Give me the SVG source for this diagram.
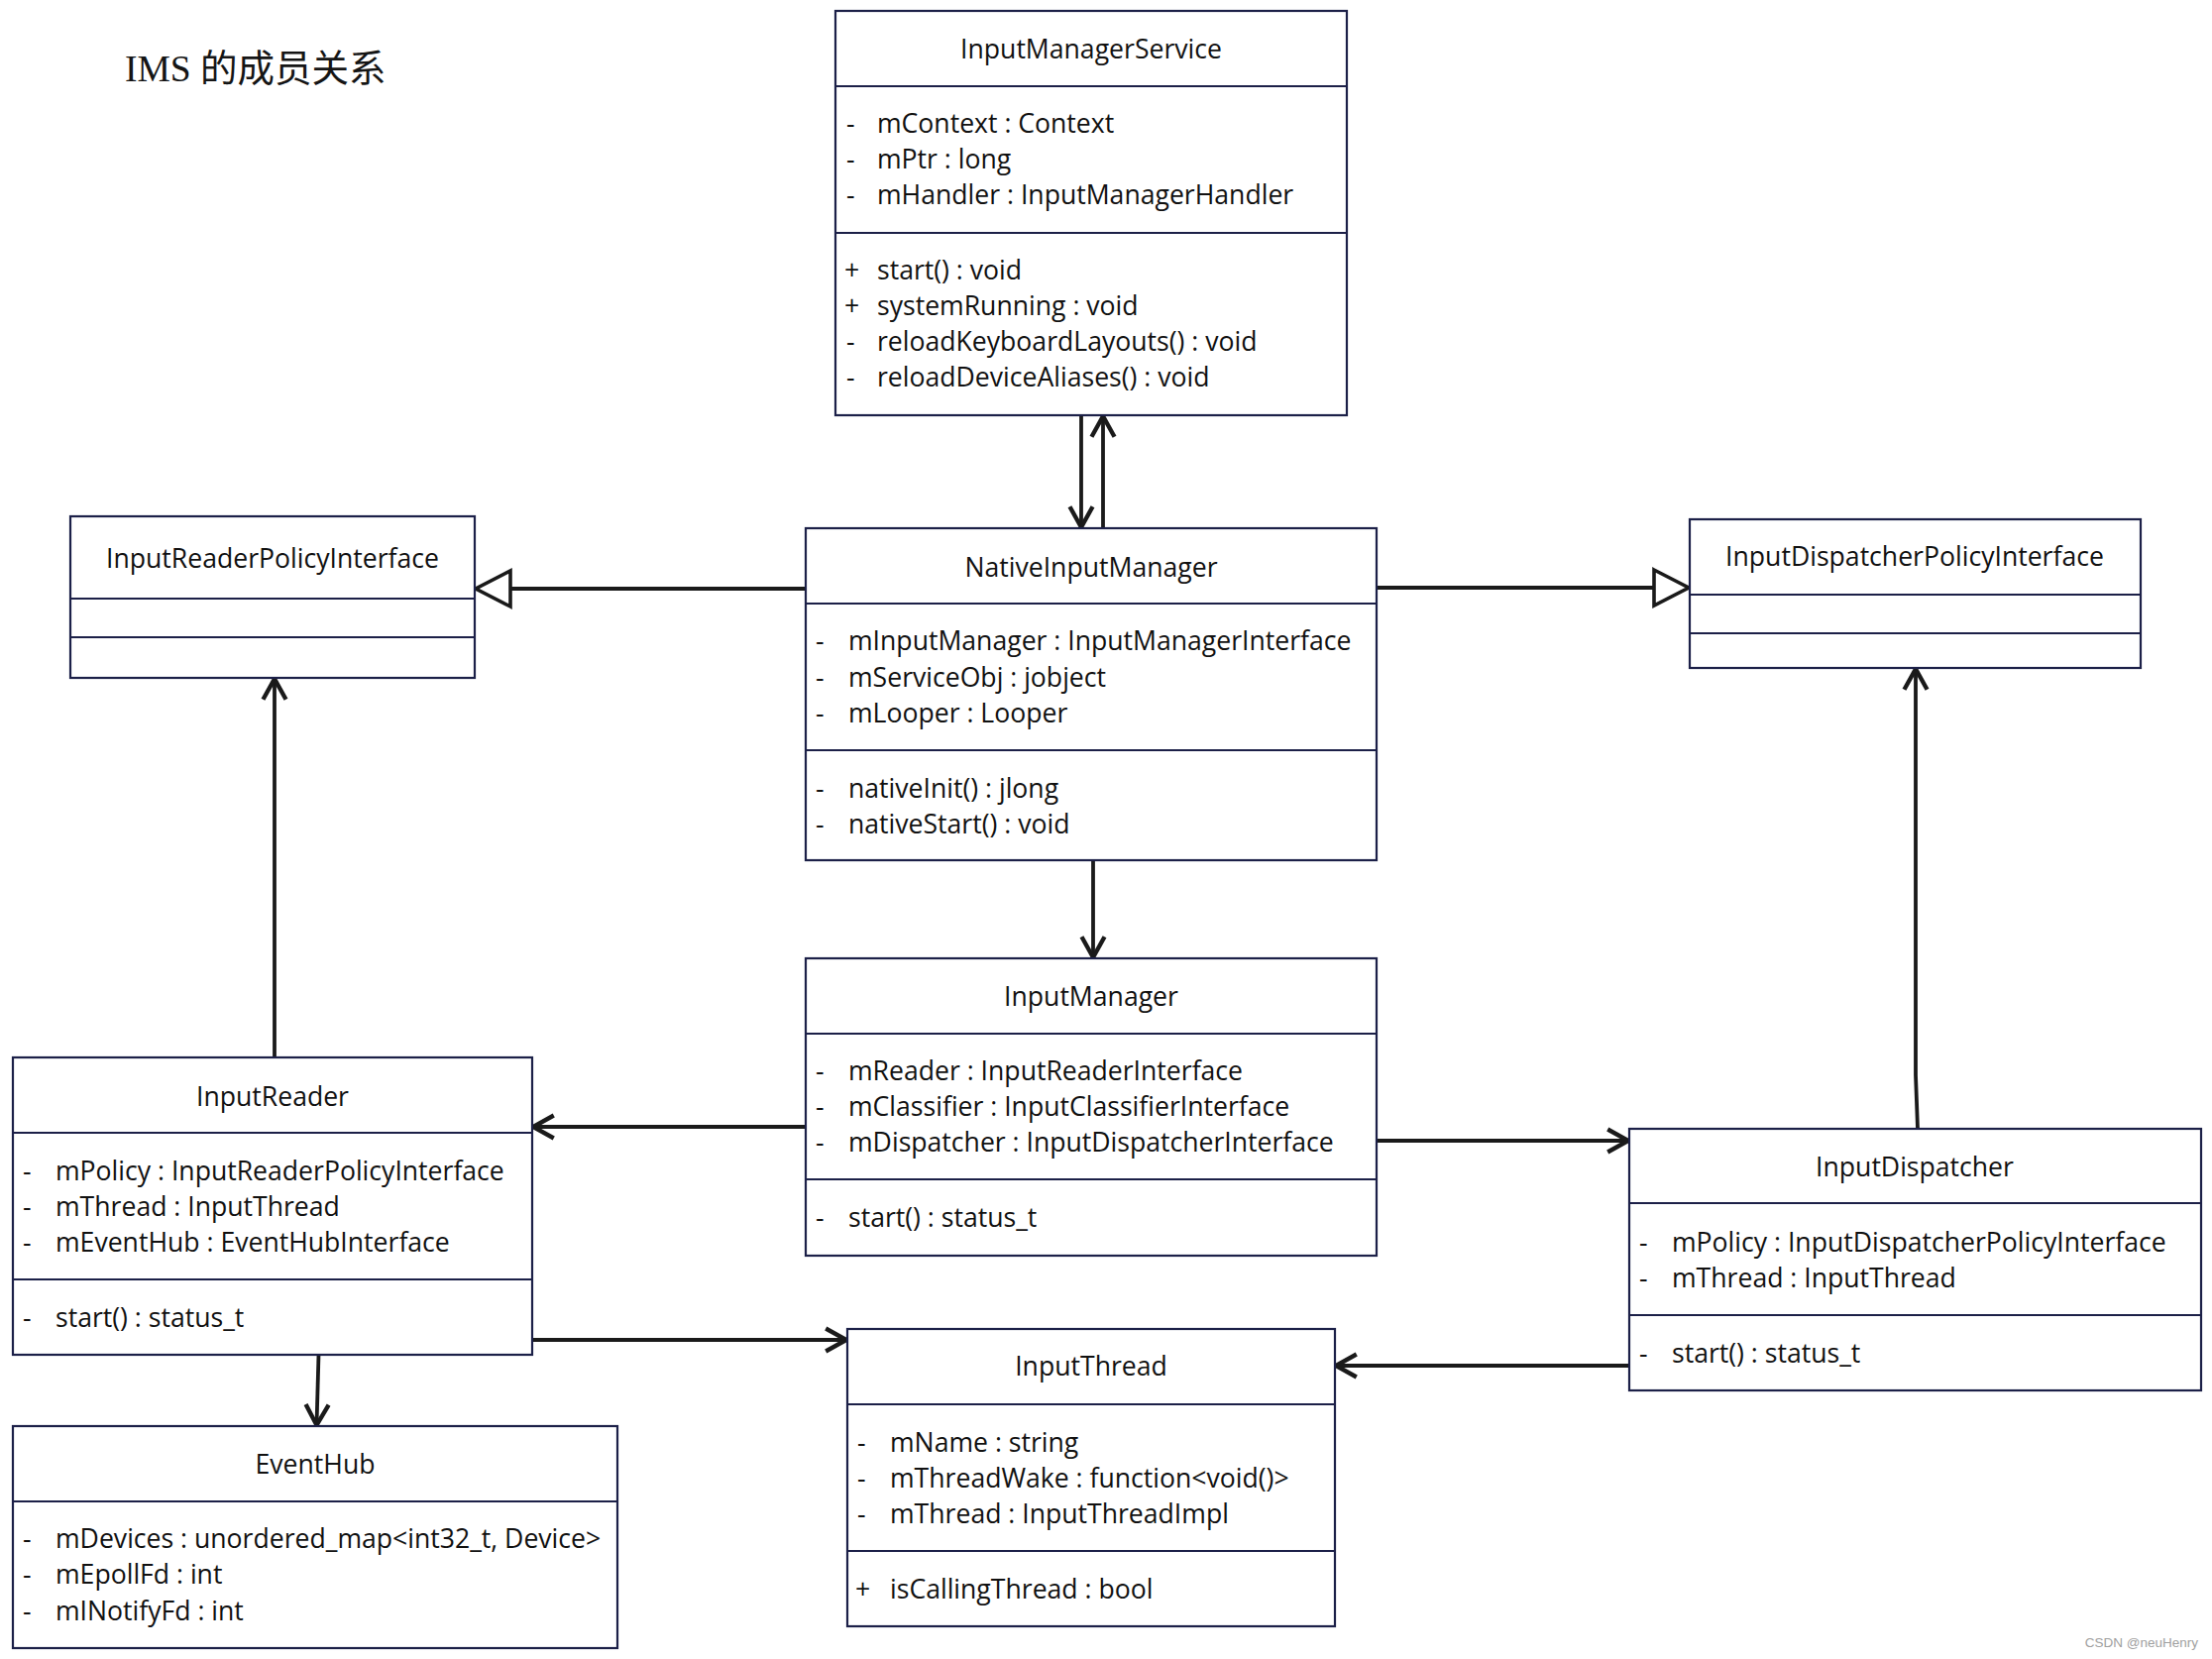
<svg xmlns="http://www.w3.org/2000/svg" width="2232" height="1674" viewBox="0 0 2232 1674">
<defs>
<style>
.box{fill:#ffffff;stroke:#1c2048;stroke-width:2.2}
.sep{stroke:#1c2048;stroke-width:2.2}
.t{font-family:"Open Sans","Noto Sans","DejaVu Sans",sans-serif;font-size:26.6px;fill:#111111}
.c{text-anchor:middle}
.edge{fill:none;stroke:#1a1a1a;stroke-width:3.8}
.title{font-family:"Liberation Serif","Noto Sans CJK SC",serif;font-size:37.5px;fill:#151515}
.wm{font-family:"Liberation Sans","DejaVu Sans",sans-serif;font-size:13.5px;fill:#a0a0a0;text-anchor:end}
</style>
<marker id="open" markerUnits="userSpaceOnUse" markerWidth="30" markerHeight="30" viewBox="-22 -13 26 26" refX="0" refY="0" orient="auto">
<path d="M-18,-10 L0,0 L-18,10" fill="none" stroke="#1a1a1a" stroke-width="3.8"/>
</marker>
<marker id="tri" markerUnits="userSpaceOnUse" markerWidth="44" markerHeight="44" viewBox="-40 -22 44 44" refX="0" refY="0" orient="auto">
<path d="M-35,-18 L0,0 L-35,18 Z" fill="#ffffff" stroke="#1a1a1a" stroke-width="3.6"/>
</marker>
</defs>
<rect width="2232" height="1674" fill="#ffffff"/>
<text class="title" x="126" y="82">IMS 的成员关系</text>

<g id="connectors">
<line class="edge" x1="1091" y1="419" x2="1091" y2="532" marker-end="url(#open)"/>
<line class="edge" x1="1113" y1="533" x2="1113" y2="420" marker-end="url(#open)"/>
<line class="edge" x1="813" y1="594" x2="480" y2="594" marker-end="url(#tri)"/>
<line class="edge" x1="1389" y1="593" x2="1704" y2="593" marker-end="url(#tri)"/>
<line class="edge" x1="1103" y1="868" x2="1103" y2="966" marker-end="url(#open)"/>
<line class="edge" x1="813" y1="1137" x2="538" y2="1137" marker-end="url(#open)"/>
<line class="edge" x1="1389" y1="1151" x2="1643" y2="1151" marker-end="url(#open)"/>
<line class="edge" x1="277" y1="1067" x2="277" y2="685" marker-end="url(#open)"/>
<line class="edge" x1="537" y1="1352" x2="854" y2="1352" marker-end="url(#open)"/>
<line class="edge" x1="321.5" y1="1367" x2="319.5" y2="1438" marker-end="url(#open)"/>
<line class="edge" x1="1644" y1="1378" x2="1348" y2="1378" marker-end="url(#open)"/>
<polyline class="edge" points="1935,1139 1933,1085 1933,675" marker-end="url(#open)"/>
</g>

<g id="InputManagerService">
<rect class="box" x="843" y="11" width="516" height="408"/>
<line class="sep" x1="843" y1="87" x2="1359" y2="87"/>
<line class="sep" x1="843" y1="235" x2="1359" y2="235"/>
<text class="t c" x="1101" y="59">InputManagerService</text>
<text class="t" x="854" y="134">-</text><text class="t" x="885" y="134">mContext : Context</text>
<text class="t" x="854" y="170">-</text><text class="t" x="885" y="170">mPtr : long</text>
<text class="t" x="854" y="206">-</text><text class="t" x="885" y="206">mHandler : InputManagerHandler</text>
<text class="t" x="852" y="282">+</text><text class="t" x="885" y="282">start() : void</text>
<text class="t" x="852" y="318">+</text><text class="t" x="885" y="318">systemRunning : void</text>
<text class="t" x="854" y="354">-</text><text class="t" x="885" y="354">reloadKeyboardLayouts() : void</text>
<text class="t" x="854" y="390">-</text><text class="t" x="885" y="390">reloadDeviceAliases() : void</text>
</g>

<g id="NativeInputManager">
<rect class="box" x="813" y="533" width="576" height="335"/>
<line class="sep" x1="813" y1="609" x2="1389" y2="609"/>
<line class="sep" x1="813" y1="757" x2="1389" y2="757"/>
<text class="t c" x="1101" y="582">NativeInputManager</text>
<text class="t" x="823" y="656">-</text><text class="t" x="856" y="656">mInputManager : InputManagerInterface</text>
<text class="t" x="823" y="693">-</text><text class="t" x="856" y="693">mServiceObj : jobject</text>
<text class="t" x="823" y="729">-</text><text class="t" x="856" y="729">mLooper : Looper</text>
<text class="t" x="823" y="805">-</text><text class="t" x="856" y="805">nativeInit() : jlong</text>
<text class="t" x="823" y="841">-</text><text class="t" x="856" y="841">nativeStart() : void</text>
</g>

<g id="InputReaderPolicyInterface">
<rect class="box" x="71" y="521" width="408" height="163"/>
<line class="sep" x1="71" y1="604" x2="479" y2="604"/>
<line class="sep" x1="71" y1="643" x2="479" y2="643"/>
<text class="t c" x="275" y="573">InputReaderPolicyInterface</text>
</g>

<g id="InputDispatcherPolicyInterface">
<rect class="box" x="1705" y="524" width="455" height="150"/>
<line class="sep" x1="1705" y1="600" x2="2160" y2="600"/>
<line class="sep" x1="1705" y1="639" x2="2160" y2="639"/>
<text class="t c" x="1932" y="571">InputDispatcherPolicyInterface</text>
</g>

<g id="InputManager">
<rect class="box" x="813" y="967" width="576" height="300"/>
<line class="sep" x1="813" y1="1043" x2="1389" y2="1043"/>
<line class="sep" x1="813" y1="1190" x2="1389" y2="1190"/>
<text class="t c" x="1101" y="1015">InputManager</text>
<text class="t" x="823" y="1090">-</text><text class="t" x="856" y="1090">mReader : InputReaderInterface</text>
<text class="t" x="823" y="1126">-</text><text class="t" x="856" y="1126">mClassifier : InputClassifierInterface</text>
<text class="t" x="823" y="1162">-</text><text class="t" x="856" y="1162">mDispatcher : InputDispatcherInterface</text>
<text class="t" x="823" y="1238">-</text><text class="t" x="856" y="1238">start() : status_t</text>
</g>

<g id="InputReader">
<rect class="box" x="13" y="1067" width="524" height="300"/>
<line class="sep" x1="13" y1="1143" x2="537" y2="1143"/>
<line class="sep" x1="13" y1="1291" x2="537" y2="1291"/>
<text class="t c" x="275" y="1116">InputReader</text>
<text class="t" x="23" y="1191">-</text><text class="t" x="56" y="1191">mPolicy : InputReaderPolicyInterface</text>
<text class="t" x="23" y="1227">-</text><text class="t" x="56" y="1227">mThread : InputThread</text>
<text class="t" x="23" y="1263">-</text><text class="t" x="56" y="1263">mEventHub : EventHubInterface</text>
<text class="t" x="23" y="1339">-</text><text class="t" x="56" y="1339">start() : status_t</text>
</g>

<g id="EventHub">
<rect class="box" x="13" y="1439" width="610" height="224"/>
<line class="sep" x1="13" y1="1515" x2="623" y2="1515"/>
<text class="t c" x="318" y="1487">EventHub</text>
<text class="t" x="23" y="1562">-</text><text class="t" x="56" y="1562">mDevices : unordered_map&lt;int32_t, Device&gt;</text>
<text class="t" x="23" y="1598">-</text><text class="t" x="56" y="1598">mEpollFd : int</text>
<text class="t" x="23" y="1635">-</text><text class="t" x="56" y="1635">mINotifyFd : int</text>
</g>

<g id="InputThread">
<rect class="box" x="855" y="1341" width="492" height="300"/>
<line class="sep" x1="855" y1="1417" x2="1347" y2="1417"/>
<line class="sep" x1="855" y1="1565" x2="1347" y2="1565"/>
<text class="t c" x="1101" y="1388">InputThread</text>
<text class="t" x="865" y="1465">-</text><text class="t" x="898" y="1465">mName : string</text>
<text class="t" x="865" y="1501">-</text><text class="t" x="898" y="1501">mThreadWake : function&lt;void()&gt;</text>
<text class="t" x="865" y="1537">-</text><text class="t" x="898" y="1537">mThread : InputThreadImpl</text>
<text class="t" x="863" y="1613">+</text><text class="t" x="898" y="1613">isCallingThread : bool</text>
</g>

<g id="InputDispatcher">
<rect class="box" x="1644" y="1139" width="577" height="264"/>
<line class="sep" x1="1644" y1="1214" x2="2221" y2="1214"/>
<line class="sep" x1="1644" y1="1327" x2="2221" y2="1327"/>
<text class="t c" x="1932" y="1187">InputDispatcher</text>
<text class="t" x="1654" y="1263">-</text><text class="t" x="1687" y="1263">mPolicy : InputDispatcherPolicyInterface</text>
<text class="t" x="1654" y="1299">-</text><text class="t" x="1687" y="1299">mThread : InputThread</text>
<text class="t" x="1654" y="1375">-</text><text class="t" x="1687" y="1375">start() : status_t</text>
</g>

<text class="wm" x="2218" y="1662">CSDN @neuHenry</text>
</svg>
